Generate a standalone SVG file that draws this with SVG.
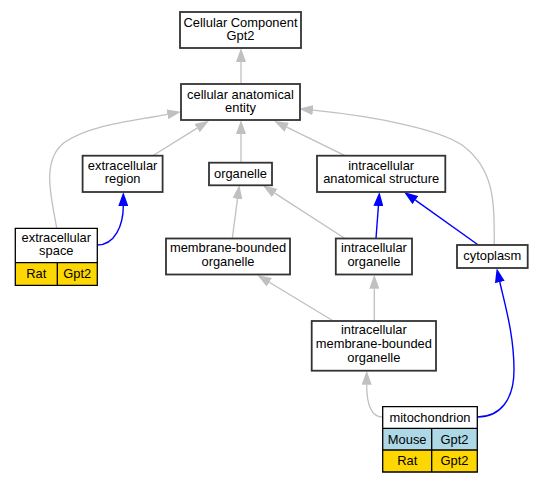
<svg xmlns="http://www.w3.org/2000/svg" width="544" height="483" viewBox="0 0 544 483">
<defs>
<style>
text{font-family:"Liberation Sans",Arial,sans-serif;font-size:12.9px;fill:#000;text-anchor:middle}
.n{fill:#fff;stroke:#333;stroke-width:1.8}
.c{stroke:#000;stroke-width:1.3}
.w{fill:#fff}
.y{fill:#ffd700}
.b{fill:#add8e6}
.g{fill:none;stroke:#c0c0c0;stroke-width:1.3}
.bl{fill:none;stroke:#0000ff;stroke-width:1.4}
.g{marker-end:url(#ag)}
.bl{marker-end:url(#ab)}
</style>
<marker id="ag" markerUnits="userSpaceOnUse" viewBox="0 0 14 10" refX="0" refY="5" markerWidth="14" markerHeight="10" orient="auto"><path d="M0,0L14,5L0,10z" fill="#c0c0c0"/></marker>
<marker id="ab" markerUnits="userSpaceOnUse" viewBox="0 0 14 10" refX="0" refY="5" markerWidth="14" markerHeight="10" orient="auto"><path d="M0,0L14,5L0,10z" fill="#0000ff"/></marker>
</defs>
<rect width="544" height="483" fill="#fff"/>
<g id="edges">
<path class="g" d="M241,84L241,62"/>
<path class="g" d="M152.7,155.7L197.1,128.1"/>
<path class="g" d="M241,162.7L241,134"/>
<path class="g" d="M345,155.7L286.7,127.2"/>
<path class="g" d="M56.7,228C52,200 40,160 65,142C90,125 130,121.5 167.3,114.3"/>
<path class="g" d="M494.3,245C494,205 496,170 462,145C440,130 380,117 312.9,110.2"/>
<path class="bl" d="M97.3,245C115,245 123.3,225 123.3,206"/>
<path class="g" d="M232.3,238.5L237.5,198.9"/>
<path class="g" d="M345,238.5L274.7,193.1"/>
<path class="bl" d="M376,238.5L378.4,206"/>
<path class="bl" d="M478.3,245L415.4,200.1"/>
<path class="g" d="M333.3,321L269.3,282.3"/>
<path class="g" d="M374.3,321L374.3,288.7"/>
<path class="g" d="M382.7,417C372,417 366.7,405 366.7,384.7"/>
<path class="bl" d="M477.3,417C500,417 514,400 514,370C514,335 505,305 499.8,282"/>
</g>
<g id="n_ccg"><rect class="n" x="180" y="12" width="121" height="36"/><text x="240.5" y="26.7">Cellular Component</text><text x="240.5" y="40.2">Gpt2</text></g>
<g id="n_cae"><rect class="n" x="181" y="84" width="119" height="36"/><text x="240.5" y="98.7">cellular anatomical</text><text x="240.5" y="112.2">entity</text></g>
<g id="n_er"><rect class="n" x="82.6" y="155.7" width="80" height="36.3"/><text x="122.6" y="169.6">extracellular</text><text x="122.6" y="183.1">region</text></g>
<g id="n_org"><rect class="n" x="209" y="162.7" width="63" height="22.6"/><text x="240.5" y="177.5">organelle</text></g>
<g id="n_ias"><rect class="n" x="317" y="155.7" width="128.3" height="36.3"/><text x="381.2" y="169.6">intracellular</text><text x="381.2" y="183.1">anatomical structure</text></g>
<g id="n_es">
<rect class="w" x="15.3" y="228.3" width="82" height="34.4"/>
<rect class="y" x="15.3" y="262.7" width="82" height="22.6"/>
<path class="c" fill="none" d="M15.3,228.3H97.3V285.3H15.3Z M15.3,262.7H97.3 M57.3,262.7V285.3"/>
<text x="56.3" y="241.8">extracellular</text><text x="56.3" y="255.3">space</text>
<text x="36.3" y="277.5">Rat</text><text x="77.3" y="277.5">Gpt2</text>
</g>
<g id="n_mbo"><rect class="n" x="166" y="238.5" width="124" height="36"/><text x="228" y="252.3">membrane-bounded</text><text x="228" y="265.8">organelle</text></g>
<g id="n_io"><rect class="n" x="335.8" y="238.5" width="76.2" height="36"/><text x="373.9" y="252.3">intracellular</text><text x="373.9" y="265.8">organelle</text></g>
<g id="n_cyt"><rect class="n" x="457" y="245" width="70.7" height="23"/><text x="492.3" y="260">cytoplasm</text></g>
<g id="n_imbo"><rect class="n" x="311.7" y="321" width="124.3" height="49.7"/><text x="373.85" y="334.2">intracellular</text><text x="373.85" y="347.9">membrane-bounded</text><text x="373.85" y="361.6">organelle</text></g>
<g id="n_mito">
<rect class="w" x="382.7" y="406.7" width="94.6" height="21.6"/>
<rect class="b" x="382.7" y="428.3" width="94.6" height="21.7"/>
<rect class="y" x="382.7" y="450" width="94.6" height="22"/>
<path class="c" fill="none" d="M382.7,406.7H477.3V472H382.7Z M382.7,428.3H477.3 M382.7,450H477.3 M431.7,428.3V472"/>
<text x="430" y="421.5">mitochondrion</text>
<text x="407.2" y="443.5">Mouse</text><text x="454.5" y="443.5">Gpt2</text>
<text x="407.2" y="465.3">Rat</text><text x="454.5" y="465.3">Gpt2</text>
</g>
</svg>
